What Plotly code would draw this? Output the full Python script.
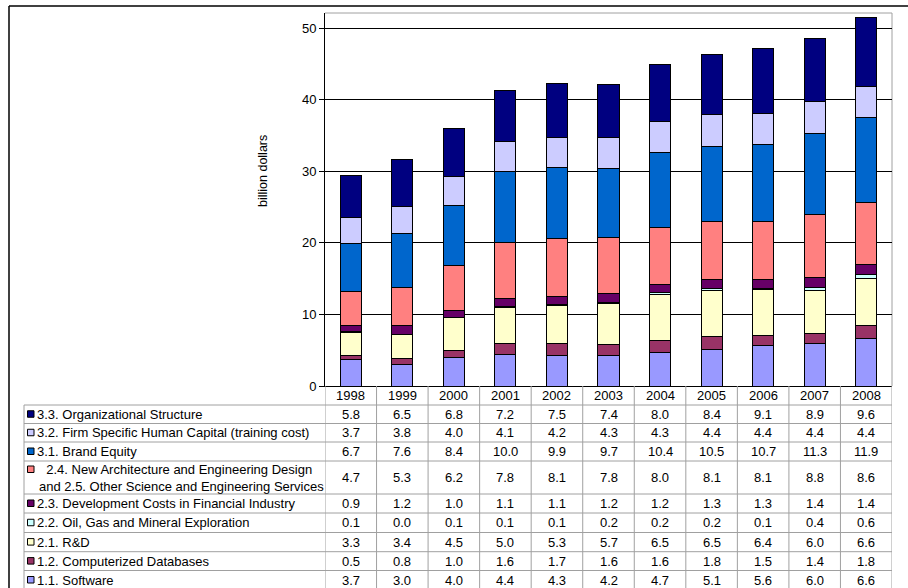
import plotly.graph_objects as go

years = ["1998", "1999", "2000", "2001", "2002", "2003", "2004", "2005", "2006", "2007", "2008"]

software = [3.7, 3.0, 4.0, 4.4, 4.3, 4.2, 4.7, 5.1, 5.6, 6.0, 6.6]
comp_db = [0.5, 0.8, 1.0, 1.6, 1.7, 1.6, 1.6, 1.8, 1.5, 1.4, 1.8]
rnd = [3.3, 3.4, 4.5, 5.0, 5.3, 5.7, 6.5, 6.5, 6.4, 6.0, 6.6]
oil_gas = [0.1, 0.0, 0.1, 0.1, 0.1, 0.2, 0.2, 0.2, 0.1, 0.4, 0.6]
dev_fin = [0.9, 1.2, 1.0, 1.1, 1.1, 1.2, 1.2, 1.3, 1.3, 1.4, 1.4]
new_arch = [4.7, 5.3, 6.2, 7.8, 8.1, 7.8, 8.0, 8.1, 8.1, 8.8, 8.6]
brand = [6.7, 7.6, 8.4, 10.0, 9.9, 9.7, 10.4, 10.5, 10.7, 11.3, 11.9]
firm_hc = [3.7, 3.8, 4.0, 4.1, 4.2, 4.3, 4.3, 4.4, 4.4, 4.4, 4.4]
org = [5.8, 6.5, 6.8, 7.2, 7.5, 7.4, 8.0, 8.4, 9.1, 8.9, 9.6]

names = [
    "1.1. Software",
    "1.2. Computerized Databases",
    "2.1. R&D",
    "2.2. Oil, Gas and Mineral Exploration",
    "2.3. Development Costs in Financial Industry",
    "  2.4. New Architecture and Engineering Design<br>and 2.5. Other Science and Engineering Services",
    "3.1. Brand Equity",
    "3.2. Firm Specific Human Capital (training cost)",
    "3.3. Organizational Structure",
]
series = [software, comp_db, rnd, oil_gas, dev_fin, new_arch, brand, firm_hc, org]
colors = ["#9999FF", "#993366", "#FFFFCC", "#CCFFFF", "#660066",
          "#FF8080", "#0066CC", "#CCCCFF", "#000080"]

W, H = 908, 588
PX0, PX1 = 325, 892      # plot area x
PY_TOP, PY_BOT = 13, 386  # plot area y
YMAX = 52.1

def px(x):
    return x / W

def py(y):
    return 1 - y / H

xpos = list(range(len(years)))

fig = go.Figure()
for nm, vals, c in zip(names, series, colors):
    fig.add_trace(go.Bar(
        x=xpos, y=vals, name=nm, width=0.41,
        marker=dict(color=c, line=dict(color="#000000", width=1)),
        showlegend=False,
    ))

shapes = []
annotations = []
FONT = dict(family="Liberation Sans, Arial, sans-serif", size=13, color="#000000")
TFONT = dict(family="Liberation Sans, Arial, sans-serif", size=12.5, color="#000000")
GRID = "#A0A0A0"

# outer chart border (left and top)
shapes.append(dict(type="line", xref="paper", yref="paper",
                   x0=px(9), x1=px(908), y0=py(6), y1=py(6),
                   line=dict(color="#000000", width=1.5)))
shapes.append(dict(type="line", xref="paper", yref="paper",
                   x0=px(9), x1=px(9), y0=py(6), y1=py(588),
                   line=dict(color="#000000", width=1.5)))

# plot area border (top, right gray)
shapes.append(dict(type="line", xref="paper", yref="paper",
                   x0=px(PX0), x1=px(PX1), y0=py(PY_TOP), y1=py(PY_TOP),
                   line=dict(color=GRID, width=1), layer="below"))
shapes.append(dict(type="line", xref="paper", yref="paper",
                   x0=px(PX1), x1=px(PX1), y0=py(PY_TOP), y1=py(PY_BOT),
                   line=dict(color=GRID, width=1), layer="below"))

# table geometry
TX0 = 24
row_edges = [405, 423.5, 442, 461, 494, 513, 532.5, 551.7, 570.5, 589.5]
for i in range(len(years) + 1):
    shapes.append(dict(type="line", xref="x", yref="paper",
                       x0=i - 0.5, x1=i - 0.5, y0=py(PY_BOT), y1=py(588),
                       line=dict(color=GRID, width=1)))
shapes.append(dict(type="line", xref="paper", yref="paper",
                   x0=px(TX0), x1=px(TX0), y0=py(row_edges[0]), y1=py(588),
                   line=dict(color=GRID, width=1)))
for e in row_edges:
    shapes.append(dict(type="line", xref="paper", yref="paper",
                       x0=px(TX0), x1=px(PX1), y0=py(e), y1=py(e),
                       line=dict(color=GRID, width=1)))

# header years
for i, yr in enumerate(years):
    annotations.append(dict(x=i, y=py((PY_BOT + row_edges[0]) / 2), xref="x", yref="paper",
                            text=yr, showarrow=False, font=FONT,
                            xanchor="center", yanchor="middle"))

# table rows (top to bottom = reversed stacking order)
order = list(range(len(series)))[::-1]
for r, idx in enumerate(order):
    top, bot = row_edges[r], row_edges[r + 1]
    mid = (top + bot) / 2
    two_line = "<br>" in names[idx]
    kmid = mid - 8 if two_line else mid
    shapes.append(dict(type="rect", xref="paper", yref="paper",
                       x0=px(27.5), x1=px(34), y0=py(kmid - 3.5), y1=py(kmid + 3),
                       fillcolor=colors[idx], line=dict(color="#000000", width=1)))
    annotations.append(dict(x=px(35 if not two_line else 37), y=py(mid), xref="paper", yref="paper",
                            text=names[idx], showarrow=False, font=FONT,
                            xanchor="left", yanchor="middle", align="left"))
    for i, v in enumerate(series[idx]):
        annotations.append(dict(x=i, y=py(mid), xref="x", yref="paper",
                                text=f"{v:.1f}", showarrow=False, font=FONT,
                                xanchor="center", yanchor="middle"))

# axis title
annotations.append(dict(x=px(263), y=py(171), xref="paper", yref="paper",
                        text="billion dollars", textangle=-90, showarrow=False,
                        font=TFONT, xanchor="center", yanchor="middle"))

fig.update_layout(
    width=W, height=H, autosize=False,
    margin=dict(l=0, r=0, t=0, b=0, pad=0),
    paper_bgcolor="#FFFFFF", plot_bgcolor="#FFFFFF",
    barmode="stack",
    shapes=shapes,
    annotations=annotations,
    font=FONT,
    xaxis=dict(domain=[px(PX0), px(PX1)], range=[-0.5, 10.5],
               showticklabels=False, showgrid=False, zeroline=False, automargin=False,
               showline=True, linecolor="#000000", linewidth=1, ticks=""),
    yaxis=dict(domain=[py(PY_BOT), py(PY_TOP)], range=[0, YMAX], automargin=False,
               tickvals=[0, 10, 20, 30, 40, 50], ticks="outside", ticklen=5,
               tickcolor="#000000", showline=True, linecolor="#000000", linewidth=1,
               showgrid=True, gridcolor="#000000", gridwidth=1, zeroline=False,
               tickfont=FONT),
)

fig.write_html("out.html", config={"responsive": False})
